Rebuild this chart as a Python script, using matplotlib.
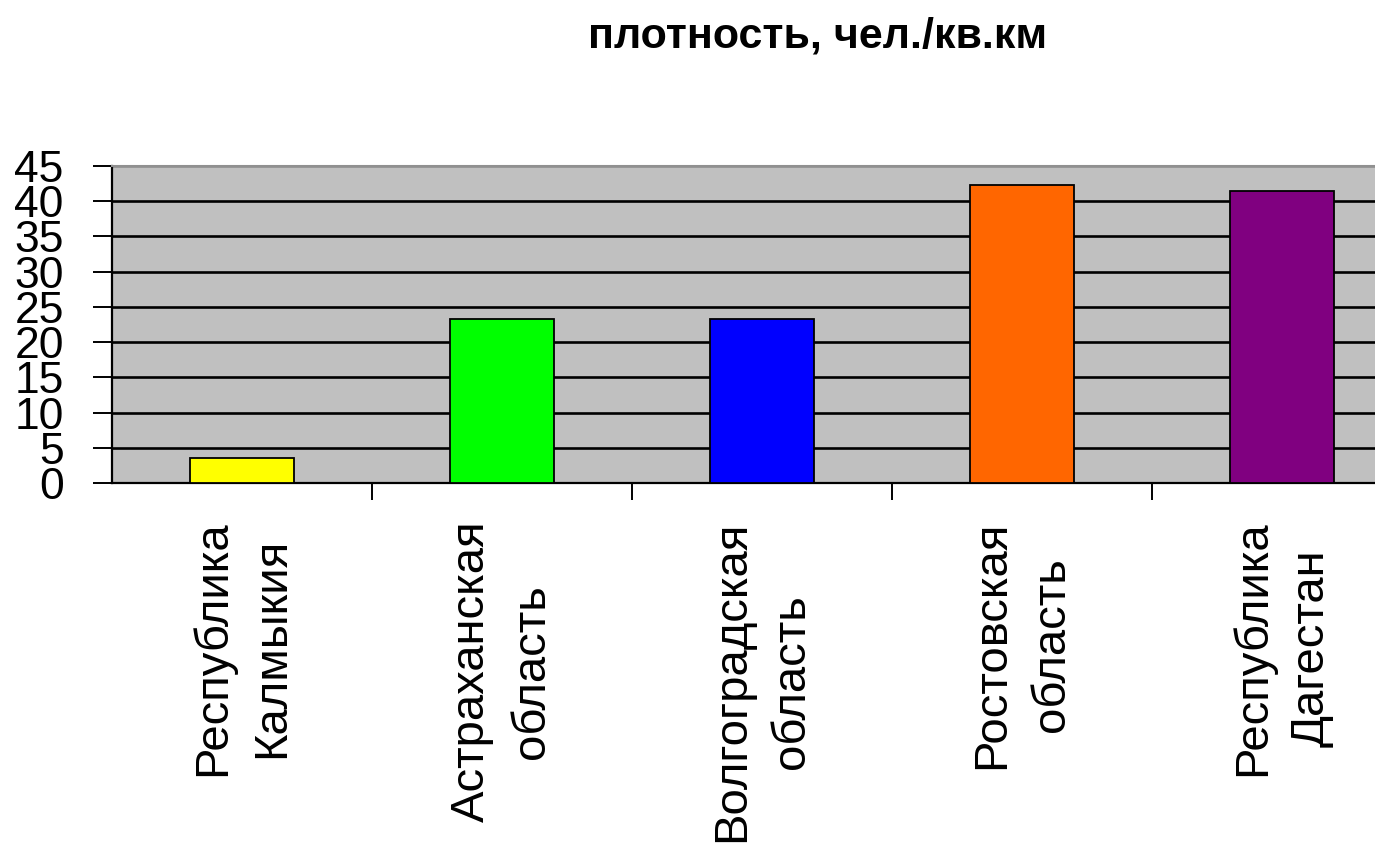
import matplotlib
matplotlib.use("Agg")
import matplotlib.pyplot as plt
from matplotlib.ticker import FixedLocator

categories = ["Республика\nКалмыкия", "Астраханская\nобласть", "Волгоградская\nобласть",
              "Ростовская\nобласть", "Республика\nДагестан"]
values = [3.6, 23.3, 23.3, 42.3, 41.5]
colors = ["#FFFF00", "#00FF00", "#0000FF", "#FF6600", "#800080"]
yticks = [0, 5, 10, 15, 20, 25, 30, 35, 40, 45]
title = "плотность, чел./кв.км"

plt.rcParams['font.family'] = ['Liberation Sans', 'DejaVu Sans']

fig = plt.figure(figsize=(13.75, 8.58), dpi=100)
ax = fig.add_axes([112/1375, 1-483/858, 1300/1375, (483-166)/858])
ax.set_facecolor("#C0C0C0")

x = list(range(len(categories)))
ax.bar(x, values, width=0.4, color=colors, edgecolor="black", linewidth=1.3, zorder=3)

ax.set_xlim(-0.5, len(categories) - 0.5)
ax.set_ylim(0, 45)
ax.set_yticks(yticks)
ax.set_yticklabels([str(v) for v in yticks], fontsize=32)
ax.yaxis.grid(True, color="black", linewidth=1.9, zorder=1)
ax.set_axisbelow(True)
gl = ax.yaxis.get_gridlines()
gl[-1].set_color("#909090")
gl[0].set_visible(False)

ax.set_xticks(x)
ax.set_xticklabels(categories, fontsize=34, rotation=90, ha="center", va="top",
                   multialignment="center", linespacing=1.45)
ax.xaxis.set_minor_locator(FixedLocator([0.5, 1.5, 2.5, 3.5, 4.5]))
ax.tick_params(axis="x", which="major", length=0, pad=27)
ax.tick_params(axis="x", which="minor", length=12, width=1.4, color="black", direction="out")
ax.tick_params(axis="y", length=13.7, width=1.4, pad=21, direction="out")

for s in ["left", "bottom"]:
    ax.spines[s].set_color("black")
    ax.spines[s].set_linewidth(1.6)
ax.spines["top"].set_color("#909090")
ax.spines["top"].set_linewidth(1.5)
ax.spines["right"].set_visible(False)

fig.text(818/1375, 1-37/858, title, fontsize=31, fontweight="bold", ha="center", va="center")

fig.savefig("out.png", dpi=100)
